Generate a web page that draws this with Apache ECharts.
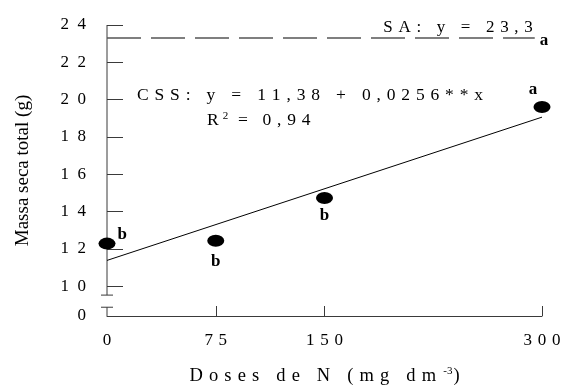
<!DOCTYPE html>
<html><head><meta charset="utf-8">
<script src="https://cdn.jsdelivr.net/npm/echarts@6/dist/echarts.min.js"></script>
<style>html,body{margin:0;padding:0;background:#fff}#c{width:562px;height:385px}</style>
</head><body><div id="c"></div>
<script>
// ---- data ----
const doses = [0, 75, 150, 300];
const massa = [12.28, 12.43, 14.72, 19.6];
const letters = ['b', 'b', 'b', 'a'];
const fitLine = [[0, 11.38], [300, 19.06]];
const saLevel = 23.3;
const saLine = [[0, saLevel], [295, saLevel]];
const xTicks = [0, 75, 150, 300];
const yTicks = [10, 12, 14, 16, 18, 20, 22, 24];
const yOrigin = 8.4;          // broken axis: bottom of axis is labelled "0"
const yOriginLabel = '0';
const yBreak = [8.87, 9.52];
const cssText = 'CSS: y = 11,38 + 0,0256**x';
const r2Value = '0,94';
const saText = 'SA: y = 23,3';
const saLetter = 'a';
const xName = 'Doses de N (mg dm';
const xNameSup = '-3';
const yName = 'Massa seca total (g)';

(function () {
// ---- helpers ----
const FONT = "'Liberation Serif','Times New Roman',serif";
const sp = s => String(s).split('').join('\u2004');
const spW = s => String(s).split('').join('\u2002');
const AX = '#3a3a3a';

const chart = echarts.init(document.getElementById('c'), null, {renderer: 'canvas'});

const labelStyles = [
  {position: 'right', offset: [0, -9], distance: 2},
  {position: 'bottom', distance: 6},
  {position: 'bottom', distance: 3},
  {position: 'top', offset: [-9, 0], distance: 3}
];

chart.setOption({
  animation: false,
  backgroundColor: '#fff',
  grid: {left: 107, right: 20, top: 25, bottom: 69, containLabel: false, outerBoundsMode: 'none'},
  xAxis: {
    type: 'value', min: 0, max: 300,
    name: '{t|' + sp(xName) + '\u2004}{s|' + xNameSup + '}{t|)}',
    nameLocation: 'middle', nameGap: 50,
    nameTextStyle: {rich: {
      t: {fontFamily: FONT, fontSize: 18.5, color: '#000'},
      s: {fontFamily: FONT, fontSize: 11, color: '#000', verticalAlign: 'top', padding: [0, 1, 10, 1]}
    }},
    axisLine: {show: true, lineStyle: {color: AX, width: 1}},
    axisTick: {show: true, inside: true, length: 10, customValues: xTicks.slice(1), lineStyle: {color: AX}},
    axisLabel: {customValues: xTicks, margin: 16, fontFamily: FONT, fontSize: 17, color: '#000',
      formatter: v => sp(v)},
    splitLine: {show: false}
  },
  yAxis: {
    type: 'value', min: yOrigin, max: 24,
    name: yName, nameLocation: 'middle', nameGap: 74,
    nameTextStyle: {fontFamily: FONT, fontSize: 19, color: '#000'},
    axisLine: {show: false},
    axisTick: {show: true, inside: true, length: 16, customValues: yTicks, lineStyle: {color: AX}},
    axisLabel: {customValues: [yOrigin].concat(yTicks), margin: 21, fontFamily: FONT, fontSize: 17, color: '#000',
      formatter: v => Math.abs(v - yOrigin) < 1e-6 ? yOriginLabel : spW(v)},
    splitLine: {show: false}
  },
  series: [
    {
      type: 'line', data: saLine, symbol: 'none', silent: true,
      lineStyle: {color: '#555', width: 1.5, type: [34, 10]}
    },
    {
      type: 'line', data: fitLine, symbol: 'none', silent: true,
      lineStyle: {color: '#000', width: 1}
    },
    {
      type: 'scatter', symbol: 'circle', symbolSize: [17, 12],
      itemStyle: {color: '#000', opacity: 1},
      label: {show: true, fontFamily: FONT, fontSize: 17, fontWeight: 'bold', color: '#000'},
      data: doses.map((d, i) => ({value: [d, massa[i]], label: Object.assign({formatter: letters[i]}, labelStyles[i])}))
    }
  ]
});

const px = (x, y) => chart.convertToPixel({gridIndex: 0}, [x, y]);
const pTop = px(0, 24), bTop = px(0, yBreak[1]), bBot = px(0, yBreak[0]), org = px(0, yOrigin);
const saEndPx = px(saLine[1][0], saLevel);

chart.setOption({
  graphic: [
    {type: 'line', shape: {x1: pTop[0], y1: pTop[1], x2: bTop[0], y2: bTop[1]}, style: {stroke: AX, lineWidth: 1}},
    {type: 'line', shape: {x1: bTop[0] - 6, y1: bTop[1], x2: bTop[0] + 6, y2: bTop[1]}, style: {stroke: AX, lineWidth: 1}},
    {type: 'line', shape: {x1: bBot[0], y1: bBot[1], x2: org[0], y2: org[1]}, style: {stroke: AX, lineWidth: 1}},
    {type: 'line', shape: {x1: bBot[0] - 6, y1: bBot[1], x2: bBot[0] + 6, y2: bBot[1]}, style: {stroke: AX, lineWidth: 1}},
    {type: 'text', x: 137, y: 104, style: {text: sp(cssText), font: '17.5px ' + FONT, fill: '#000', textVerticalAlign: 'bottom'}},
    {type: 'text', x: 207, y: 111, style: {
      text: '{a|R}{s|2}{a|' + '\u2004=\u2002\u2004' + sp(r2Value) + '}',
      rich: {a: {fontFamily: FONT, fontSize: 17.5, fill: '#000'},
             s: {fontFamily: FONT, fontSize: 11, fill: '#000', verticalAlign: 'top', padding: [0, 4, 8, 4]}}
    }},
    {type: 'text', x: saEndPx[0] - 2, y: saEndPx[1] - 2, style: {text: sp(saText), font: '17px ' + FONT, fill: '#000', textAlign: 'right', textVerticalAlign: 'bottom'}},
    {type: 'text', x: saEndPx[0] + 5, y: saEndPx[1] + 11, style: {text: saLetter, font: 'bold 17px ' + FONT, fill: '#000', textVerticalAlign: 'bottom'}}
  ]
});
})();
</script>
</body></html>
